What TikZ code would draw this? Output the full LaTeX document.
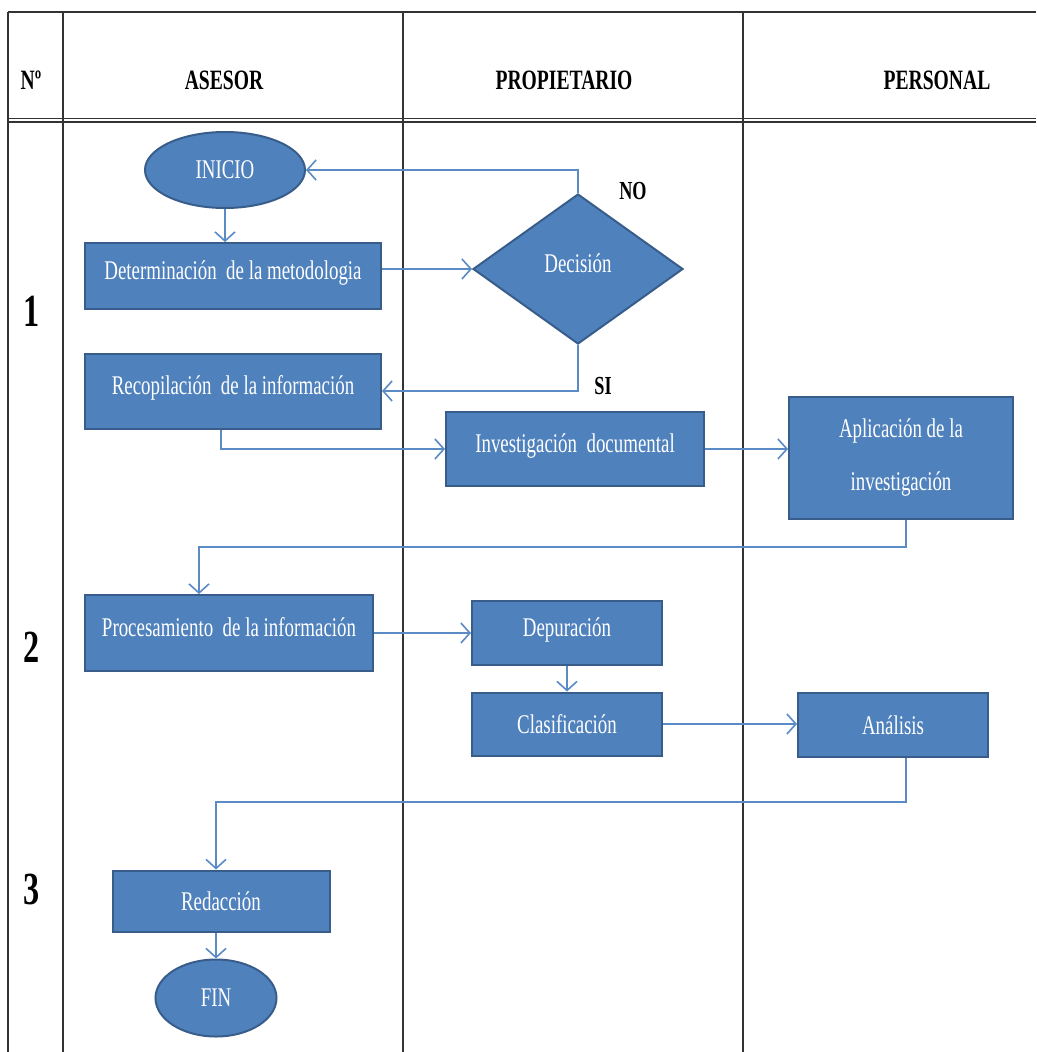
\documentclass[tikz,border=0pt]{standalone}
\usepackage{fontspec}
\setmainfont{Liberation Serif}
\newfontfamily\cond[FakeStretch=0.70]{Liberation Serif}
\usetikzlibrary{shapes.geometric,arrows.meta}
\definecolor{boxfill}{HTML}{4F81BD}
\definecolor{boxedge}{HTML}{385D8A}
\definecolor{flowline}{HTML}{5B8BC5}
\definecolor{rule}{HTML}{333333}
\tikzset{
  x=1pt, y=-1pt,
  stepbox/.style={draw=boxedge, line width=2pt, fill=boxfill, text=white,
    font=\cond\fontsize{27}{53}\selectfont, inner sep=0pt, align=center},
  lift/.style={text height=19pt, text depth=13pt},
  term/.style={stepbox, ellipse},
  choice/.style={stepbox, diamond},
  flow/.style={draw=flowline, line width=1.6pt,
    -{Straight Barb[length=9pt,width=20pt,line width=1.6pt]}},
  head/.style={font=\cond\bfseries\fontsize{28}{30}\selectfont},
  rownum/.style={font=\cond\bfseries\fontsize{46}{50}\selectfont},
  tag/.style={font=\cond\bfseries\fontsize{26}{30}\selectfont},
  grid/.style={draw=rule, line width=1.3pt}
}
\begin{document}
\begin{tikzpicture}
\useasboundingbox[fill=white] (0,0) rectangle (1036,1052);

% table frame
\draw[grid, line width=2.4pt] (8,12) -- (1036,12);
\draw[grid] (8,118.5) -- (1036,118.5);
\draw[grid] (8,122) -- (1036,122);
\foreach \cx in {8,63,403,743} \draw[grid] (\cx,12) -- (\cx,1052);

% headers
\node[head] (hn) at (31,80) {Nº};
\node[head] (ha) at (224,80) {ASESOR};
\node[head] (hp) at (564,80) {PROPIETARIO};
\node[head] (hq) at (937,80) {PERSONAL};

% row numbers
\node[rownum] (r1) at (32,311) {1};
\node[rownum] (r2) at (32,647) {2};
\node[rownum] (r3) at (32,889) {3};

% process steps
\node[term, minimum width=160pt, minimum height=76pt] (inicio) at (225,170) {INICIO};
\node[stepbox, lift, minimum width=296pt, minimum height=66pt] (det) at (233,276) {Determinación\ \ de la metodologia};
\node[choice, lift, minimum width=210pt, minimum height=150pt] (dec) at (578,269) {Decisión};
\node[stepbox, lift, minimum width=296pt, minimum height=75pt] (rec) at (233,391) {Recopilación\ \ de la información};
\node[stepbox, lift, minimum width=258pt, minimum height=74pt] (inv) at (575,449) {Investigación\ \ documental};
\node[stepbox, minimum width=224pt, minimum height=122pt] (apl) at (901,458) {Aplicación de la\\investigación};
\node[stepbox, lift, minimum width=288pt, minimum height=76pt] (proc) at (229,633) {Procesamiento\ \ de la información};
\node[stepbox, lift, minimum width=190pt, minimum height=64pt] (dep) at (567,633) {Depuración};
\node[stepbox, minimum width=190pt, minimum height=63pt] (cla) at (567,724) {Clasificación};
\node[stepbox, minimum width=190pt, minimum height=64pt] (ana) at (893,725) {Análisis};
\node[stepbox, minimum width=217pt, minimum height=61pt] (red) at (221,901) {Redacción};
\node[term, minimum width=121pt, minimum height=77pt] (fin) at (216,998) {FIN};

% branch labels
\node[tag] (no) at (633,191) {NO};
\node[tag] (si) at (603,386) {SI};

% bend points
\coordinate (k1) at (199,547);
\coordinate (k2) at (216,802);

% connectors
\draw[flow] (inicio.south) -- (inicio.south |- det.north);
\draw[flow] (det.east |- dec.west) -- (dec.west);
\draw[flow] (dec.north) |- (inicio.east);
\draw[flow] (dec.south) |- (rec.east);
\draw[flow] ([xshift=-12pt]rec.south) |- (inv.west);
\draw[flow] (inv.east) -- (inv.east -| apl.west);
\draw[flow] ([xshift=5pt]apl.south) |- (k1) -- (k1 |- proc.north);
\draw[flow] (proc.east) -- (proc.east -| dep.west);
\draw[flow] (dep.south) -- (cla.north);
\draw[flow] (cla.east) -- (cla.east -| ana.west);
\draw[flow] ([xshift=13pt]ana.south) |- (k2) -- (k2 |- red.north);
\draw[flow] (red.south -| fin.north) -- (fin.north);
\end{tikzpicture}
\end{document}
